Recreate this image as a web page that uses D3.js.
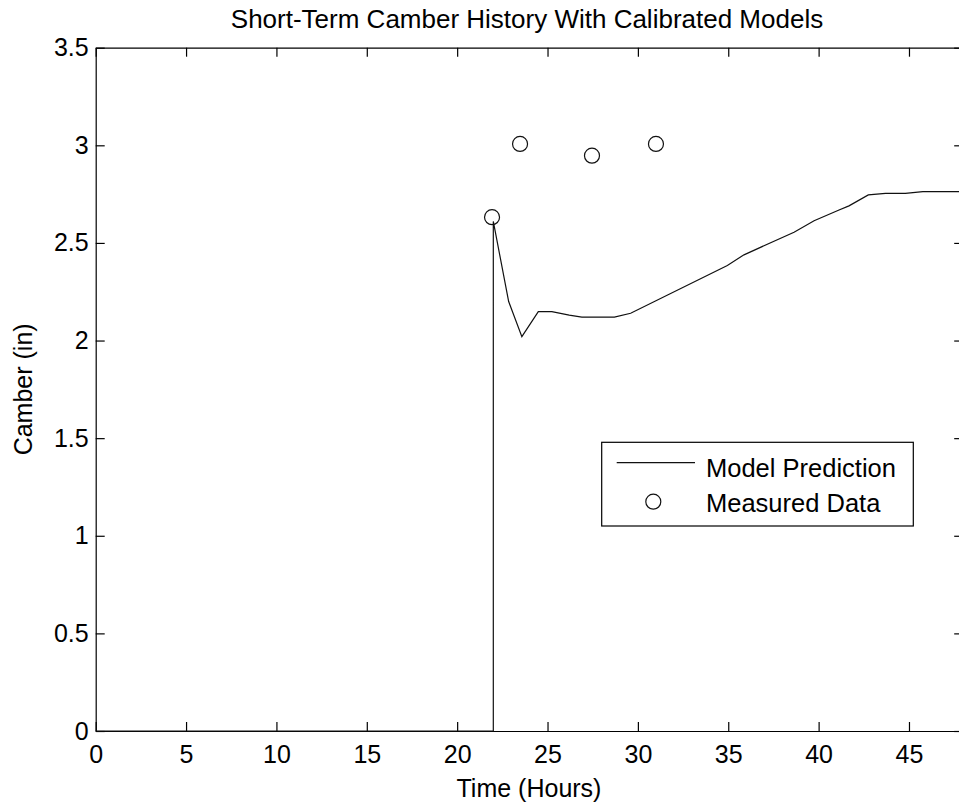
<!DOCTYPE html>
<html>
<head>
<meta charset="utf-8">
<script src="https://cdn.jsdelivr.net/npm/d3@7"></script>
<style>
  html, body { margin: 0; padding: 0; background: #fff; }
  svg { display: block; }
  text { font-family: "Liberation Sans", Arial, sans-serif; fill: #000; }
</style>
</head>
<body>
<script>
// ---- data ----
const modelTime   = [0, 22, 22, 22.85, 23.58, 24.49, 25.24, 26.2, 26.9, 28.7, 29.6, 34.95, 35.87, 38.64, 39.75, 41.13, 41.68, 42.75, 43.7, 44.8, 45.77, 48];
const modelCamber = [0, 0, 2.61, 2.20, 2.02, 2.148, 2.148, 2.13, 2.12, 2.12, 2.14, 2.384, 2.439, 2.555, 2.614, 2.669, 2.69, 2.746, 2.754, 2.754, 2.763, 2.763];
const measuredTime   = [21.93, 23.48, 27.46, 31.0];
const measuredCamber = [2.632, 3.007, 2.947, 3.007];
const xTicks = [0, 5, 10, 15, 20, 25, 30, 35, 40, 45];
const yTicks = [0, 0.5, 1, 1.5, 2, 2.5, 3, 3.5];
const titleText = "Short-Term Camber History With Calibrated Models";
const xLabel = "Time (Hours)";
const yLabel = "Camber (in)";
const legendLabels = ["Model Prediction", "Measured Data"];

// ---- layout ----
const W = 959, H = 803;
const m = { left: 95.7, top: 47.7 };
const pw = 867.5, ph = 683.3;
const FS = 25;

const svg = d3.select("body").append("svg").attr("width", W).attr("height", H);
const g = svg.append("g").attr("transform", `translate(${m.left},${m.top})`);

const x = d3.scaleLinear().domain([0, 48]).range([0, pw]);
const y = d3.scaleLinear().domain([0, 3.5]).range([ph, 0]);

const tickLen = 9;
function styleAxis(sel, labels) {
  sel.select(".domain").attr("stroke", "#000").attr("stroke-width", 1.2);
  sel.selectAll(".tick line").attr("stroke", "#000").attr("stroke-width", 1.2);
  sel.selectAll(".tick text").style("font-size", FS + "px").style("font-family", '"Liberation Sans", Arial, sans-serif').attr("fill", "#000");
  if (!labels) sel.selectAll(".tick text").remove();
}

// bottom axis
g.append("g").attr("transform", `translate(0,${ph})`)
  .call(d3.axisBottom(x).tickValues(xTicks).tickFormat(d3.format("d")).tickSizeInner(-tickLen).tickSizeOuter(0).tickPadding(14))
  .call(s => styleAxis(s, true));
// top axis
g.append("g")
  .call(d3.axisTop(x).tickValues(xTicks).tickSizeInner(-tickLen).tickSizeOuter(0))
  .call(s => styleAxis(s, false));
// left axis
g.append("g")
  .call(d3.axisLeft(y).tickValues(yTicks).tickFormat(d => d3.format("")(d)).tickSizeInner(-tickLen).tickSizeOuter(0).tickPadding(7))
  .call(s => styleAxis(s, true));
// right axis
g.append("g").attr("transform", `translate(${pw},0)`)
  .call(d3.axisRight(y).tickValues(yTicks).tickSizeInner(-tickLen).tickSizeOuter(0))
  .call(s => styleAxis(s, false));

// model line
const line = d3.line().x(i => x(modelTime[i])).y(i => y(modelCamber[i]));
g.append("path")
  .datum(d3.range(modelTime.length))
  .attr("d", line)
  .attr("fill", "none")
  .attr("stroke", "#111")
  .attr("stroke-width", 1.2);

// measured points
g.selectAll("circle.meas")
  .data(d3.range(measuredTime.length))
  .join("circle")
  .attr("class", "meas")
  .attr("cx", i => x(measuredTime[i]))
  .attr("cy", i => y(measuredCamber[i]))
  .attr("r", 7.5)
  .attr("fill", "none")
  .attr("stroke", "#111")
  .attr("stroke-width", 1.2);

// title
svg.append("text")
  .attr("x", 527).attr("y", 28)
  .attr("text-anchor", "middle")
  .style("font-size", "26px")
  .text(titleText);

// x label
svg.append("text")
  .attr("x", 529).attr("y", 797)
  .attr("text-anchor", "middle")
  .style("font-size", FS + "px")
  .text(xLabel);

// y label
svg.append("text")
  .attr("transform", `translate(32,${m.top + ph / 2}) rotate(-90)`)
  .attr("text-anchor", "middle")
  .style("font-size", FS + "px")
  .text(yLabel);

// legend
const lg = svg.append("g");
lg.append("rect")
  .attr("x", 601.7).attr("y", 442.3)
  .attr("width", 311.6).attr("height", 83.7)
  .attr("fill", "#fff").attr("stroke", "#000").attr("stroke-width", 1.2);
lg.append("line")
  .attr("x1", 616.7).attr("x2", 695).attr("y1", 462.7).attr("y2", 462.7)
  .attr("stroke", "#111").attr("stroke-width", 1.2);
lg.append("circle")
  .attr("cx", 653.3).attr("cy", 501.7).attr("r", 7.5)
  .attr("fill", "none").attr("stroke", "#111").attr("stroke-width", 1.2);
lg.selectAll("text.leg")
  .data(legendLabels)
  .join("text")
  .attr("class", "leg")
  .attr("x", 706)
  .attr("y", (d, i) => [476.7, 511.7][i])
  .style("font-size", "25.5px")
  .text(d => d);
</script>
</body>
</html>
